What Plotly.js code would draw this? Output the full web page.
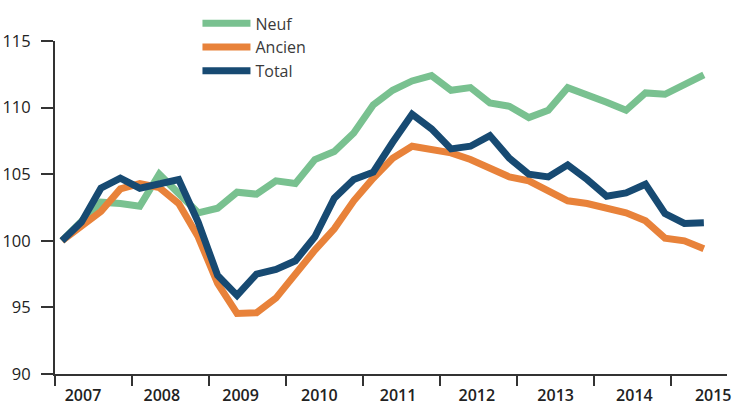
<!DOCTYPE html>
<html>
<head>
<meta charset="utf-8">
<script src="https://cdn.plot.ly/plotly-3.0.1.min.js"></script>
<style>
  html, body { margin: 0; padding: 0; background: #ffffff; }
  #chart { width: 733px; height: 405px; }
</style>
</head>
<body>
<div id="chart"></div>
<script>
// Quarterly index (base 100 = 2007 T1)
const quarters = [
  '2007T1','2007T2','2007T3','2007T4',
  '2008T1','2008T2','2008T3','2008T4',
  '2009T1','2009T2','2009T3','2009T4',
  '2010T1','2010T2','2010T3','2010T4',
  '2011T1','2011T2','2011T3','2011T4',
  '2012T1','2012T2','2012T3','2012T4',
  '2013T1','2013T2','2013T3','2013T4',
  '2014T1','2014T2','2014T3','2014T4',
  '2015T1','2015T2'
];
const neuf = [
  100.0, 101.5, 102.9, 102.8,
  102.6, 105.0, 103.6, 102.1,
  102.45, 103.65, 103.5, 104.5,
  104.3, 106.1, 106.7, 108.1,
  110.2, 111.3, 112.0, 112.4,
  111.3, 111.5, 110.35, 110.1,
  109.25, 109.8, 111.5, 111.0,
  110.4, 109.8, 111.1, 111.0,
  111.7, 112.45
];
const ancien = [
  100.0, 101.1, 102.2, 103.9,
  104.3, 104.0, 102.8, 100.3,
  96.8, 94.55, 94.6, 95.7,
  97.6, 99.3, 100.9, 103.0,
  104.7, 106.2, 107.1, 106.9,
  106.6, 106.1, 105.45, 104.8,
  104.5, 103.8, 103.0, 102.8,
  102.5, 102.1, 101.5, 100.2,
  100.0, 99.4
];
const total = [
  100.0, 101.4, 103.95, 104.7,
  103.95, 104.3, 104.6, 101.4,
  97.4, 95.9, 97.5, 97.85,
  98.5, 100.3, 103.2, 104.6,
  105.15, 107.4, 109.5, 108.4,
  106.9, 107.1, 107.9, 106.2,
  105.0, 104.8, 105.7, 104.6,
  103.35, 103.6, 104.25, 102.05,
  101.3, 101.35
];
const years = ['2007','2008','2009','2010','2011','2012','2013','2014','2015'];
const yTicks = [90, 95, 100, 105, 110, 115];
const seriesNames = ['Neuf', 'Ancien', 'Total'];
const colors = ['#79c190', '#e8823a', '#174a72'];

const xIdx = quarters.map((q, i) => i);
const xRange = [-0.36, 34.19];
const tickPos = years.map((y, k) => -0.36 + 3.96 * k);
const labelPos = years.map((y, k) => 1.08 + 4.05 * k);

const traces = [neuf, ancien, total].map((vals, s) => ({
  type: 'scatter',
  mode: 'lines',
  name: seriesNames[s],
  x: xIdx,
  y: vals,
  text: quarters,
  line: { color: colors[s], width: 7, shape: 'linear' },
  hoverinfo: 'text+y+name'
}));

const fontFam = '"Open Sans", "Noto Sans", sans-serif';

const layout = {
  width: 733,
  height: 405,
  margin: { l: 55, r: 6, t: 39, b: 31, pad: 0 },
  paper_bgcolor: '#ffffff',
  plot_bgcolor: '#ffffff',
  font: { family: fontFam, color: '#222222', size: 16 },
  showlegend: true,
  legend: {
    x: 0.212, xanchor: 'left',
    y: 1.104, yanchor: 'top',
    bgcolor: 'rgba(0,0,0,0)',
    font: { family: fontFam, size: 16, color: '#3a3a3a' },
    itemwidth: 48,
    tracegroupgap: 0
  },
  xaxis: {
    range: xRange,
    tickmode: 'array',
    tickvals: labelPos,
    ticktext: years,
    ticks: '',
    ticklabelstandoff: 6,
    tickfont: { family: fontFam, size: 16, color: '#222222', weight: 600 },
    minor: {
      tickmode: 'array',
      tickvals: tickPos,
      ticks: 'outside',
      ticklen: 10,
      tickwidth: 2,
      tickcolor: '#333333',
      showgrid: false
    },
    showline: true,
    linecolor: '#333333',
    linewidth: 2,
    showgrid: false,
    zeroline: false,
    fixedrange: true
  },
  yaxis: {
    range: [90, 115],
    tickmode: 'array',
    tickvals: yTicks,
    ticks: 'outside',
    ticklen: 12,
    tickwidth: 2,
    tickcolor: '#333333',
    ticklabelstandoff: 7,
    tickfont: { family: fontFam, size: 16.5, color: '#222222', weight: 500 },
    showline: true,
    linecolor: '#333333',
    linewidth: 2,
    showgrid: false,
    zeroline: false,
    fixedrange: true
  }
};

Plotly.newPlot('chart', traces, layout, { displayModeBar: false, staticPlot: true });
</script>
</body>
</html>
